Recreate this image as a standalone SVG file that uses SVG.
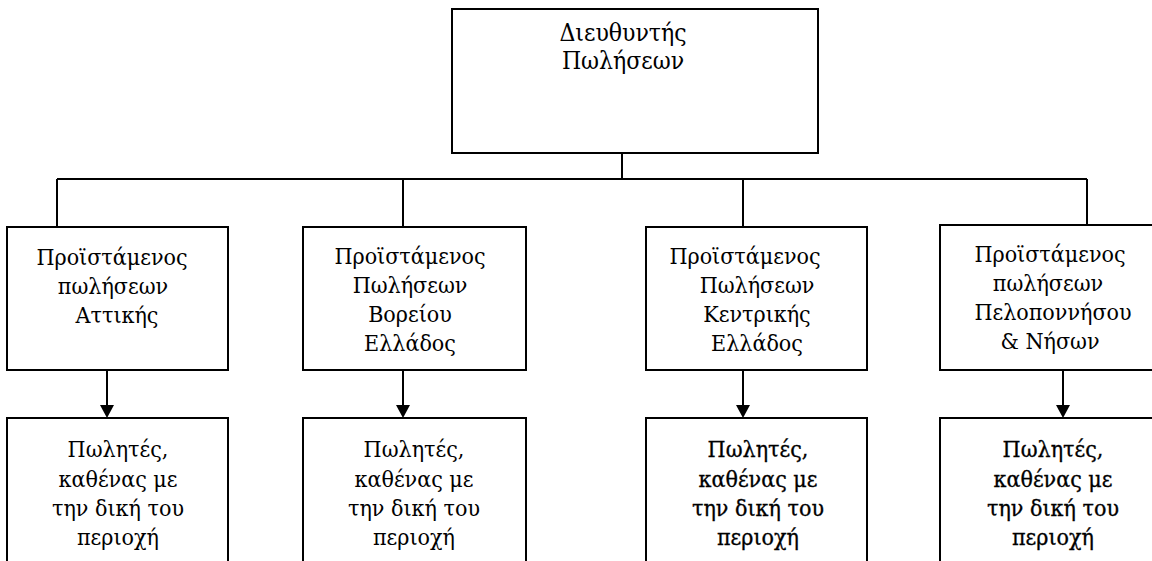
<svg xmlns="http://www.w3.org/2000/svg" width="1152" height="561" viewBox="0 0 1152 561">
<style>
.box{fill:#fff;stroke:#000;stroke-width:2}
.ln{fill:none;stroke:#000;stroke-width:2}
text{font-family:'DejaVu Serif Condensed','DejaVu Serif',serif;font-stretch:condensed;font-size:23px;fill:#000;text-anchor:middle}
.lg{font-size:24.5px}
.b{stroke:#000;stroke-width:0.3}
</style>
<rect width="1152" height="561" fill="#fff"/>
<g id="connectors">
<path class="ln" d="M622,153 V179 M57,179 H1087 M57,179 V227 M403,179 V227 M743,179 V227 M1087,179 V225"/>
<line class="ln" x1="107" y1="370" x2="107" y2="405"/>
<path d="M100,405 L114,405 L107,418 Z"/>
<line class="ln" x1="403" y1="370" x2="403" y2="405"/>
<path d="M396,405 L410,405 L403,418 Z"/>
<line class="ln" x1="743" y1="370" x2="743" y2="405"/>
<path d="M736,405 L750,405 L743,418 Z"/>
<line class="ln" x1="1063" y1="370" x2="1063" y2="405" stroke-width="2.5"/>
<path d="M1056,405 L1070,405 L1063,418 Z"/>
</g>
<g id="director">
<rect class="box" x="452" y="9" width="366" height="144"/>
<text class="lg" x="623" y="41">Διευθυντής</text>
<text class="lg" x="623" y="69">Πωλήσεων</text>
</g>
<g id="mgr-attiki">
<rect class="box" x="7" y="227" width="221" height="143"/>
<text x="112" y="265">Προϊστάμενος</text>
<text x="113" y="294">πωλήσεων</text>
<text x="117" y="323">Αττικής</text>
</g>
<g id="mgr-voreiou">
<rect class="box" x="303" y="227" width="223" height="143"/>
<text x="410" y="264">Προϊστάμενος</text>
<text x="410" y="293">Πωλήσεων</text>
<text x="410" y="322">Βορείου</text>
<text x="410" y="351">Ελλάδος</text>
</g>
<g id="mgr-kentrikis">
<rect class="box" x="646" y="227" width="221" height="143"/>
<text x="745" y="264">Προϊστάμενος</text>
<text x="757" y="293">Πωλήσεων</text>
<text x="757" y="322">Κεντρικής</text>
<text x="757" y="351">Ελλάδος</text>
</g>
<g id="mgr-peloponnisou">
<rect class="box" x="940" y="225" width="222" height="145"/>
<text x="1050" y="262">Προϊστάμενος</text>
<text x="1048" y="291">πωλήσεων</text>
<text x="1053" y="320">Πελοποννήσου</text>
<text x="1050" y="349">&amp; Νήσων</text>
</g>
<g id="sales-attiki">
<rect class="box" x="7" y="418" width="221" height="160"/>
<text x="118" y="457">Πωλητές,</text>
<text x="118" y="487">καθένας με</text>
<text x="118" y="516">την δική του</text>
<text x="118" y="545">περιοχή</text>
</g>
<g id="sales-voreiou">
<rect class="box" x="303" y="418" width="223" height="160"/>
<text x="414" y="457">Πωλητές,</text>
<text x="414" y="487">καθένας με</text>
<text x="414" y="516">την δική του</text>
<text x="414" y="545">περιοχή</text>
</g>
<g id="sales-kentrikis">
<rect class="box" x="646" y="418" width="221" height="160"/>
<text class="b" x="758" y="457">Πωλητές,</text>
<text class="b" x="758" y="487">καθένας με</text>
<text class="b" x="758" y="516">την δική του</text>
<text class="b" x="758" y="545">περιοχή</text>
</g>
<g id="sales-peloponnisou">
<rect class="box" x="940" y="418" width="222" height="160"/>
<text class="b" x="1053" y="457">Πωλητές,</text>
<text class="b" x="1053" y="487">καθένας με</text>
<text class="b" x="1053" y="516">την δική του</text>
<text class="b" x="1053" y="545">περιοχή</text>
</g>
</svg>
